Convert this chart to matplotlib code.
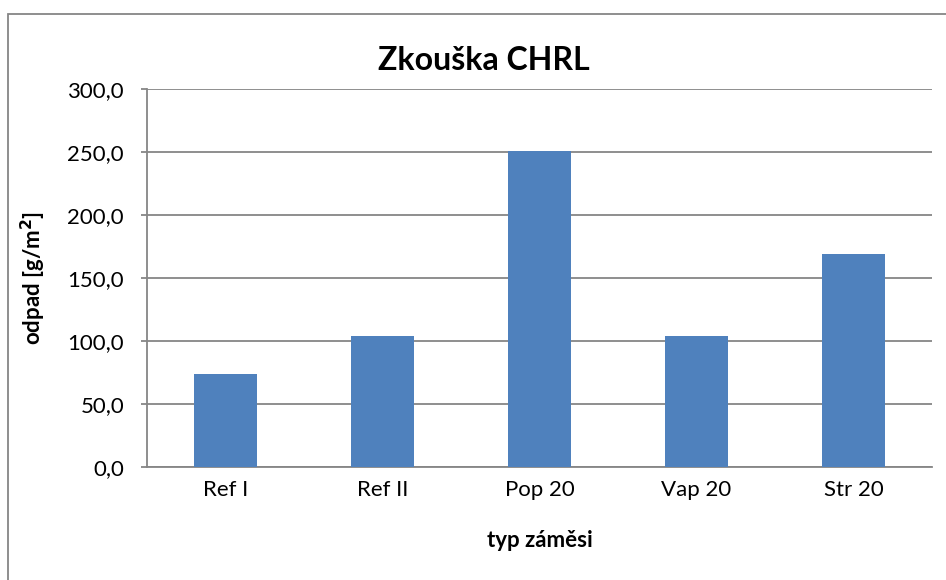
import matplotlib.pyplot as plt
from matplotlib.patches import Rectangle
from matplotlib.ticker import FuncFormatter

# data
categories = ["Ref I", "Ref II", "Pop 20", "Vap 20", "Str 20"]
odpad = [74.2, 103.9, 250.8, 103.6, 169.3]
y_ticks = [0, 50, 100, 150, 200, 250, 300]

BAR = "#4F81BD"
GRID = "#868686"

plt.rcParams["font.family"] = ["Lato", "DejaVu Sans"]

W, H = 946, 580
fig = plt.figure(figsize=(W / 100, H / 100), dpi=100)

# outer chart border (only top and left are inside the picture)
fig.patches.append(Rectangle((8 / W, -0.1), 1.2, 1 - 14 / H + 0.1,
                             transform=fig.transFigure, fill=False,
                             edgecolor=GRID, lw=1.3))

ax = fig.add_axes([147 / W, (H - 467) / H, 785 / W, 378 / H])
x = range(len(categories))
ax.bar(x, odpad, width=0.4, color=BAR, zorder=3)

ax.set_xlim(-0.5, len(categories) - 0.5)
ax.set_ylim(0, 300)
ax.set_yticks(y_ticks)
ax.yaxis.set_major_formatter(FuncFormatter(lambda v, _: f"{v:.1f}".replace(".", ",")))
ax.set_xticks(list(x))
ax.set_xticklabels(categories)

ax.grid(axis="y", color=GRID, lw=1.3, zorder=0)
for s in ["top", "right"]:
    ax.spines[s].set_visible(False)
for s in ["left", "bottom"]:
    ax.spines[s].set_color(GRID)
    ax.spines[s].set_linewidth(1.3)

ax.tick_params(axis="y", length=4.5, width=1.3, color=GRID, pad=12, labelsize=16)
ax.tick_params(axis="x", length=0, pad=9, labelsize=16)

ax.set_xlabel("typ záměsi", fontsize=16, fontweight="bold", labelpad=22)
ax.set_ylabel("odpad [g/m$^\\mathbf{2}$]", fontsize=16, fontweight="bold", labelpad=14)
fig.text(484 / W, 1 - 60 / H, "Zkouška CHRL", ha="center", va="center",
         fontsize=23, fontweight="bold")

fig.savefig("out.png", dpi=100)
